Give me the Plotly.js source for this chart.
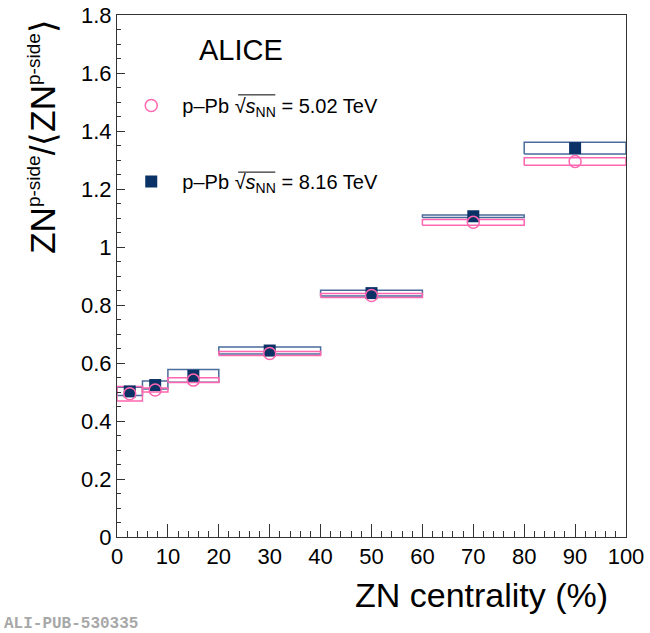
<!DOCTYPE html>
<html>
<head>
<meta charset="utf-8">
<script src="https://cdn.plot.ly/plotly-3.0.1.min.js"></script>
<style>
  html, body { margin: 0; padding: 0; background: #fff; }
  #plot { width: 650px; height: 633px; }
</style>
</head>
<body>
<div id="plot"></div>
<script>
// ZN centrality bins (%)
const binCenter = [2.5, 7.5, 15, 30, 50, 70, 90];
const binHalf = [2.5, 2.5, 5, 10, 10, 10, 10];

// p-Pb 5.02 TeV
const y502 = [0.494, 0.507, 0.541, 0.633, 0.833, 1.085, 1.295];
const sys502 = [0.025, 0.007, 0.008, 0.007, 0.007, 0.010, 0.013];

// p-Pb 8.16 TeV
const y816 = [0.502, 0.524, 0.556, 0.643, 0.841, 1.106, 1.341];
const sys816 = [0.014, 0.014, 0.022, 0.012, 0.010, 0.004, 0.020];

const pink = '#ff66b0';
const navy = '#0a3266';
const steel = '#4a6c9b';

// closed rectangles for the systematic boxes, one path per bin
function boxPath(yv, sv) {
  let xs = [], ys = [];
  for (let i = 0; i < binCenter.length; i++) {
    const x0 = binCenter[i] - binHalf[i], x1 = binCenter[i] + binHalf[i];
    const y0 = yv[i] - sv[i], y1 = yv[i] + sv[i];
    xs.push(x0, x1, x1, x0, x0, null);
    ys.push(y0, y0, y1, y1, y0, null);
  }
  return {x: xs, y: ys};
}

const b816 = boxPath(y816, sys816);
const b502 = boxPath(y502, sys502);

const sq = '\u221A';
const traces = [
  {x: b816.x, y: b816.y, mode: 'lines', line: {color: steel, width: 1.5},
   showlegend: false, hoverinfo: 'skip'},
  {x: b502.x, y: b502.y, mode: 'lines', line: {color: pink, width: 1.5},
   showlegend: false, hoverinfo: 'skip'},
  {x: binCenter, y: y816, mode: 'markers', legendgroup: 'b', legendrank: 2,
   name: '\u00a0\u00a0p\u2013Pb ' + sq + '<i>s</i><sub>NN</sub> = 8.16 TeV',
   marker: {symbol: 'square', size: 12, color: navy}},
  {x: binCenter, y: y502, mode: 'markers', legendgroup: 'a', legendrank: 1,
   name: '\u00a0\u00a0p\u2013Pb ' + sq + '<i>s</i><sub>NN</sub> = 5.02 TeV',
   marker: {symbol: 'circle-open', size: 12, color: pink, line: {width: 1.5, color: pink}}}
];

const font = 'Liberation Sans, Arial, Helvetica, sans-serif';
const sup = '<sup><span style="font-size:19px">p-side</span></sup>';

// overline of the square root sign in the legend
const overline = (yy) => ({type: 'line', xref: 'paper', yref: 'paper',
  x0: 0.238, x1: 0.311, y0: yy, y1: yy, line: {color: '#000', width: 1}});

const layout = {
  width: 650, height: 633,
  margin: {l: 117, r: 24, t: 15, b: 96},
  paper_bgcolor: '#fff', plot_bgcolor: '#fff',
  font: {family: font, color: '#000'},
  showlegend: true,
  legend: {x: 0.028, y: 0.864, xanchor: 'left', yanchor: 'top',
           font: {size: 20, family: font}, tracegroupgap: 47,
           bgcolor: 'rgba(0,0,0,0)'},
  xaxis: {
    range: [0, 100], dtick: 10, showgrid: false, zeroline: false,
    showline: true, linecolor: '#333', linewidth: 1, mirror: true,
    ticks: 'inside', ticklen: 13, tickcolor: '#333',
    minor: {dtick: 2, ticks: 'inside', ticklen: 6, tickcolor: '#333'},
    tickfont: {size: 22, family: font}
  },
  yaxis: {
    range: [0, 1.8], dtick: 0.2, showgrid: false, zeroline: false,
    showline: true, linecolor: '#333', linewidth: 1, mirror: true,
    ticks: 'inside', ticklen: 8, tickcolor: '#333',
    minor: {dtick: 0.05, ticks: 'inside', ticklen: 4, tickcolor: '#333'},
    tickfont: {size: 22, family: font}
  },
  shapes: [overline(0.847), overline(0.699)],
  annotations: [
    {text: 'ZN centrality (%)', xref: 'paper', yref: 'paper', x: 0.969, y: -0.111,
     xanchor: 'right', yanchor: 'middle', showarrow: false, font: {size: 34}},
    {text: 'ZN' + sup + '/\u27E8ZN' + sup + '\u27E9', textangle: -90,
     xref: 'paper', yref: 'paper', x: -0.148, y: 0.768,
     xanchor: 'center', yanchor: 'middle', showarrow: false, font: {size: 35}},
    {text: 'ALICE', xref: 'paper', yref: 'paper', x: 0.244, y: 0.933,
     xanchor: 'center', yanchor: 'middle', showarrow: false, font: {size: 29}},
    {text: '<b>ALI-PUB-530335</b>', xref: 'paper', yref: 'paper', x: -0.225, y: -0.167,
     xanchor: 'left', yanchor: 'middle', showarrow: false,
     font: {size: 16, family: 'Liberation Mono, Courier New, monospace', color: '#a8a8a8'}}
  ]
};

Plotly.newPlot('plot', traces, layout, {displayModeBar: false, staticPlot: true});
</script>
</body>
</html>
